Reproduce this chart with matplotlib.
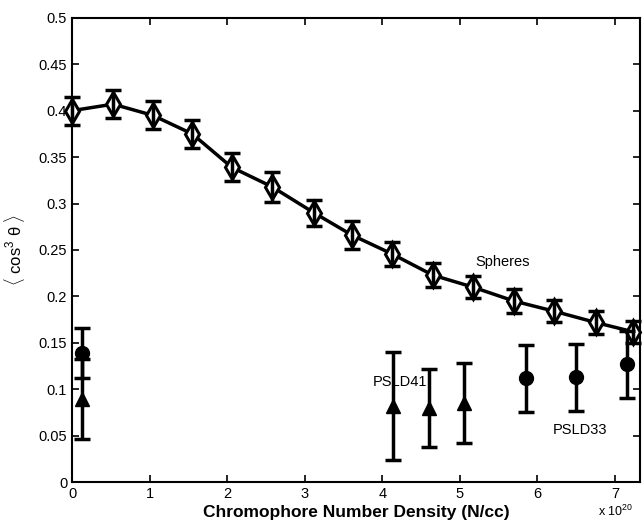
import matplotlib

matplotlib.use("Agg")

import matplotlib.pyplot as plt

plt.rcParams["font.family"] = ["Liberation Sans", "DejaVu Sans"]
plt.rcParams["mathtext.fontset"] = "custom"
plt.rcParams["mathtext.rm"] = "Liberation Sans"
plt.rcParams["mathtext.it"] = "Liberation Sans"

# Spheres (x in units of 1e20 N/cc)
sph_x = [0.0, 0.53, 1.04, 1.55, 2.06, 2.58, 3.12, 3.61, 4.12, 4.65, 5.17, 5.70, 6.22, 6.75, 7.23]
sph_y = [0.400, 0.407, 0.395, 0.375, 0.339, 0.318, 0.290, 0.266, 0.246, 0.223, 0.210, 0.195, 0.184, 0.172, 0.162]
sph_err = [0.015, 0.015, 0.015, 0.015, 0.015, 0.016, 0.014, 0.015, 0.013, 0.013, 0.012, 0.013, 0.012, 0.012, 0.012]

# PSLD41 (triangles)
p41_x = [0.13, 4.14, 4.60, 5.06]
p41_y = [0.090, 0.082, 0.080, 0.085]
p41_err = [0.043, 0.058, 0.042, 0.043]

# PSLD33 (circles)
p33_x = [0.13, 5.85, 6.50, 7.15]
p33_y = [0.139, 0.112, 0.113, 0.127]
p33_err = [0.027, 0.036, 0.036, 0.036]

fig = plt.figure(figsize=(6.43, 5.23), dpi=100)
ax = fig.add_axes([0.112, 0.078, 0.883, 0.888])

ax.plot(sph_x, sph_y, "-", color="black", linewidth=2.5, marker="d", markersize=12,
        markerfacecolor="white", markeredgecolor="black", markeredgewidth=2.2,
        clip_on=False, zorder=2)
ax.errorbar(sph_x, sph_y, yerr=sph_err, fmt="none", ecolor="black",
            elinewidth=2.5, capsize=6, capthick=2.5, clip_on=False, zorder=3)
ax.errorbar(p41_x, p41_y, yerr=p41_err, fmt="^", color="black", markersize=10,
            elinewidth=2.5, capsize=6, capthick=2.5)
ax.errorbar(p33_x, p33_y, yerr=p33_err, fmt="o", color="black", markersize=10,
            elinewidth=2.5, capsize=6, capthick=2.5, clip_on=False)

ax.text(5.55, 0.237, "Spheres", fontsize=10.5, ha="center", va="center")
ax.text(3.88, 0.108, "PSLD41", fontsize=10.5, ha="left", va="center")
ax.text(6.55, 0.056, "PSLD33", fontsize=10.5, ha="center", va="center")

ax.set_xlim(0, 7.32)
ax.set_ylim(0, 0.5)
ax.set_xticks(range(0, 8))
ax.set_yticks([0, 0.05, 0.1, 0.15, 0.2, 0.25, 0.3, 0.35, 0.4, 0.45, 0.5])
ax.set_yticklabels(["0", "0.05", "0.1", "0.15", "0.2", "0.25", "0.3", "0.35", "0.4", "0.45", "0.5"])
ax.tick_params(direction="in", top=True, right=True, labelsize=10.5, width=1.2, length=5)
for s in ax.spines.values():
    s.set_linewidth(1.5)

ax.set_xlabel("Chromophore Number Density (N/cc)", fontsize=12.5, fontweight="bold", labelpad=3)
ax.set_ylabel(r"$\langle\ \mathrm{cos}^3\ \theta\ \rangle$", fontsize=12, labelpad=8)
fig.text(0.958, 0.022, r"x 10$^{20}$", fontsize=9, ha="center", va="center")

fig.savefig("out.png")
